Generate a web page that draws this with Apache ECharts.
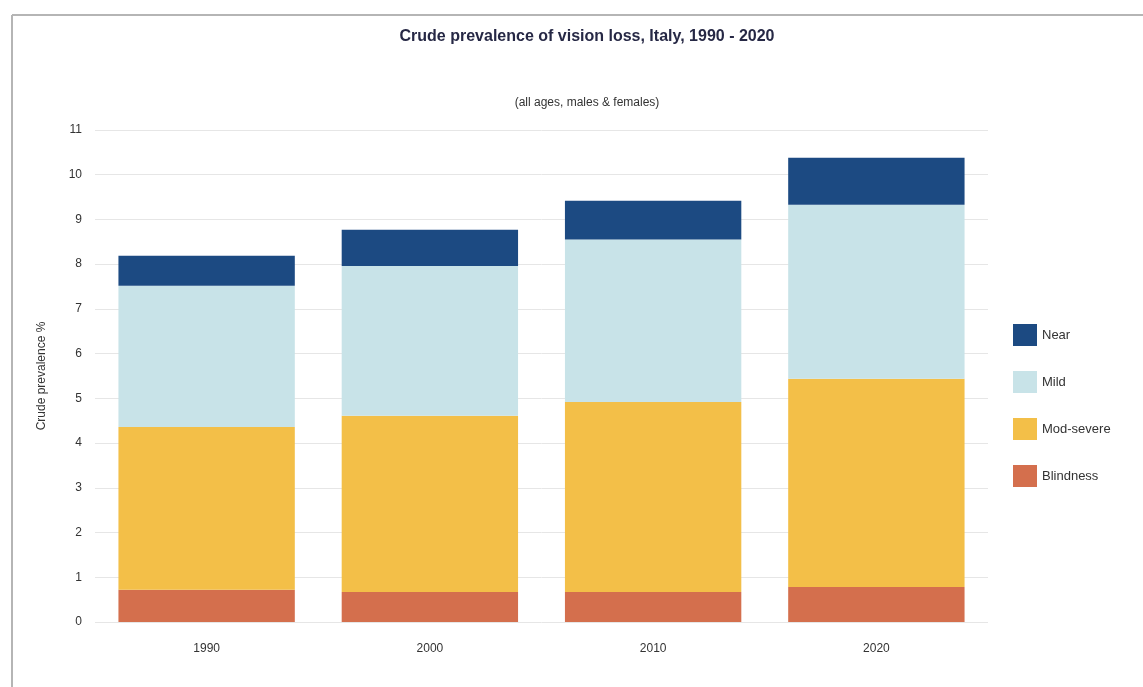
<!DOCTYPE html>
<html>
<head>
<meta charset="utf-8">
<script src="https://cdn.jsdelivr.net/npm/echarts@6/dist/echarts.min.js"></script>
<style>
  html, body { margin: 0; padding: 0; background: #fff; }
  #chart { width: 1143px; height: 687px; }
</style>
</head>
<body>
<div id="chart"></div>
<script>
const years = ['1990', '2000', '2010', '2020'];
const blindness = [0.72, 0.67, 0.67, 0.78];
const modSevere = [3.64, 3.94, 4.25, 4.66];
const mild = [3.16, 3.35, 3.63, 3.89];
const near = [0.67, 0.81, 0.87, 1.05];

const chart = echarts.init(document.getElementById('chart'));

const barSeries = (name, data, color) => ({
  name: name,
  type: 'bar',
  stack: 'total',
  barCategoryGap: '21%',
  data: data,
  itemStyle: { color: color },
  emphasis: { disabled: true }
});

chart.setOption({
  backgroundColor: '#fff',
  animation: false,
  textStyle: { fontFamily: 'Liberation Sans, Arial, sans-serif' },
  title: [
    {
      text: 'Crude prevalence of vision loss, Italy, 1990 - 2020',
      left: 582,
      top: 24,
      textAlign: 'center',
      textStyle: { fontSize: 16, fontWeight: 'bold', color: '#262845' }
    },
    {
      text: '(all ages, males & females)',
      left: 582,
      top: 92,
      textAlign: 'center',
      textStyle: { fontSize: 12, fontWeight: 'normal', color: '#333' }
    }
  ],
  graphic: [
    { type: 'line', shape: { x1: 12, y1: 15, x2: 1143, y2: 15 }, style: { stroke: '#b5b5b5', lineWidth: 2 } },
    { type: 'line', shape: { x1: 12, y1: 15, x2: 12, y2: 687 }, style: { stroke: '#b5b5b5', lineWidth: 2 } }
  ],
  legend: {
    orient: 'vertical',
    left: 1008,
    top: 319,
    itemWidth: 24,
    itemHeight: 22,
    itemGap: 25,
    icon: 'rect',
    data: ['Near', 'Mild', 'Mod-severe', 'Blindness'],
    textStyle: { fontSize: 13, color: '#333' }
  },
  grid: { left: 95, right: 155, top: 130, bottom: 65 },
  xAxis: {
    type: 'category',
    data: years,
    axisLine: { show: false },
    axisTick: { show: false },
    axisLabel: { fontSize: 12, color: '#333', margin: 21 }
  },
  yAxis: {
    type: 'value',
    min: 0,
    max: 11,
    interval: 1,
    name: 'Crude prevalence %',
    nameLocation: 'middle',
    nameGap: 47,
    nameTextStyle: { fontSize: 12, color: '#333' },
    axisLabel: { fontSize: 12, color: '#333', margin: 13 },
    splitLine: { lineStyle: { color: '#e6e6e6', width: 1 } }
  },
  series: [
    barSeries('Blindness', blindness, '#d46f4d'),
    barSeries('Mod-severe', modSevere, '#f3bf48'),
    barSeries('Mild', mild, '#c8e3e8'),
    barSeries('Near', near, '#1c4a82')
  ]
});
</script>
</body>
</html>
